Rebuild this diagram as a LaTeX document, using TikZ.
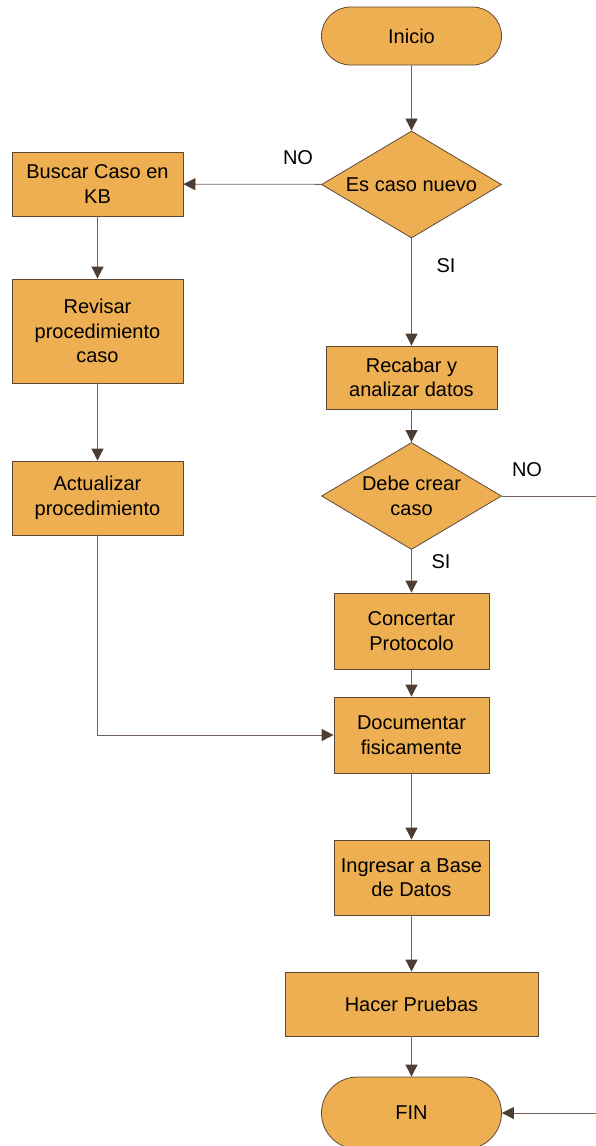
\documentclass[tikz,border=0pt]{standalone}
\usepackage{fontspec}
\setmainfont{Liberation Sans}
\usetikzlibrary{shapes.geometric,arrows.meta}

\definecolor{caja}{HTML}{EDAF52}
\definecolor{borde}{HTML}{5E4838}
\definecolor{linea}{HTML}{736259}
\definecolor{punta}{HTML}{4E3D32}

\tikzset{
  paso/.style={draw=borde, fill=caja, rectangle, align=center, inner sep=0pt,
    line width=0.8pt, font=\fontsize{20}{24.5}\selectfont},
  terminal/.style={paso, rounded corners=29pt, minimum width=180pt, minimum height=58pt},
  decision/.style={paso, diamond, aspect=1.68, minimum width=180pt, minimum height=107pt},
  flecha/.style={draw=linea, line width=0.8pt, -{Triangle[length=12pt,width=12pt,color=punta]}},
  etiqueta/.style={font=\fontsize{20}{24}\selectfont}
}

\begin{document}
\begin{tikzpicture}[x=1pt,y=-1pt]
    \useasboundingbox (0,0) rectangle (595,1146);

    \node[terminal] (inicio) at (411.5,36) {Inicio};
    \node[decision] (nuevo) at (411.5,184.5) {Es caso nuevo};
    \node[paso, minimum width=171pt, minimum height=64pt] (buscar) at (97.5,184) {Buscar Caso en\\KB};
    \node[paso, minimum width=171pt, minimum height=104pt] (revisar) at (97.5,331) {Revisar\\procedimiento\\caso};
    \node[paso, minimum width=171pt, minimum height=74pt] (actualizar) at (97.5,498) {Actualizar\\procedimiento};
    \node[paso, minimum width=171pt, minimum height=63pt] (recabar) at (411.5,377.5) {Recabar y\\analizar datos};
    \node[decision] (crear) at (411.5,496) {Debe crear\\caso};
    \node[paso, minimum width=155pt, minimum height=76pt] (concertar) at (411.5,631) {Concertar\\Protocolo};
    \node[paso, minimum width=155pt, minimum height=76pt] (documentar) at (411.5,735) {Documentar\\fisicamente};
    \node[paso, minimum width=155pt, minimum height=75pt] (ingresar) at (411.5,877.5) {Ingresar a Base\\de Datos};
    \node[paso, minimum width=253pt, minimum height=64pt] (pruebas) at (411.5,1004) {Hacer Pruebas};
    \node[terminal, minimum height=72pt, rounded corners=36pt] (fin) at (411.5,1113) {FIN};

    \node[etiqueta] (no1) at (298,158) {NO};
    \node[etiqueta] (si1) at (446,266) {SI};
    \node[etiqueta] (no2) at (527,470) {NO};
    \node[etiqueta] (si2) at (441,562) {SI};

    \coordinate (derecha) at (598,496);
    \coordinate (derechafin) at (598,1113);

    \draw[flecha] (inicio) -- (nuevo);
    \draw[flecha] (nuevo) -- (buscar);
    \draw[flecha] (buscar) -- (revisar);
    \draw[flecha] (revisar) -- (actualizar);
    \draw[flecha] (actualizar) |- (documentar);
    \draw[flecha] (nuevo) -- (recabar);
    \draw[flecha] (recabar) -- (crear);
    \draw[flecha] (crear) -- (concertar);
    \draw[flecha] (concertar) -- (documentar);
    \draw[flecha] (documentar) -- (ingresar);
    \draw[flecha] (ingresar) -- (pruebas);
    \draw[flecha] (pruebas) -- (fin);
    \draw[flecha] (crear.east) -- (derecha) -- (derechafin) -- (fin.east);

\end{tikzpicture}
\end{document}
